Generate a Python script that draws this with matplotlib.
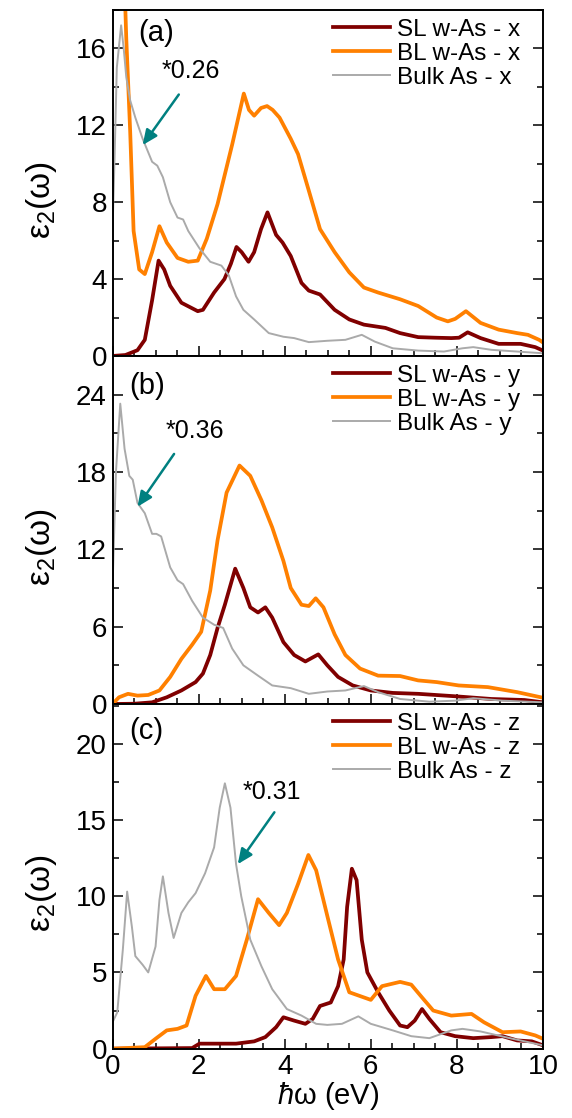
import matplotlib
matplotlib.use('Agg')
import matplotlib.pyplot as plt
from matplotlib.ticker import MultipleLocator

plt.rcParams['font.family'] = ['Liberation Sans', 'DejaVu Sans']
plt.rcParams['mathtext.fontset'] = 'custom'
plt.rcParams['mathtext.rm'] = 'Liberation Sans'
plt.rcParams['mathtext.it'] = 'Liberation Sans:italic'

# ================= data =================
# panel (a): x polarisation
sl_x_e = [0, 0.3, 0.58, 0.75, 0.92, 1.07, 1.2, 1.34, 1.6, 1.98, 2.1, 2.36, 2.6, 2.75, 2.88, 3.0, 3.16, 3.29,
          3.45, 3.6, 3.8, 3.95, 4.14, 4.39, 4.56, 4.82, 5.16, 5.5, 5.84, 6.34, 6.68, 7.1, 7.5, 7.87, 8.05, 8.25,
          8.55, 8.97, 9.48, 9.82, 10]
sl_x = [0, 0.05, 0.3, 0.84, 2.9, 4.96, 4.5, 3.65, 2.77, 2.33, 2.4, 3.3, 4.0, 4.8, 5.67, 5.4, 4.9, 5.4,
        6.6, 7.47, 6.3, 5.9, 5.2, 3.8, 3.4, 3.2, 2.4, 1.9, 1.63, 1.46, 1.19, 0.98, 0.95, 0.93, 0.95, 1.23,
        0.93, 0.63, 0.63, 0.46, 0.28]
bl_x_e = [0.27, 0.32, 0.41, 0.49, 0.62, 0.75, 0.92, 1.09, 1.26, 1.51, 1.76, 1.98, 2.19, 2.44, 2.78, 3.05,
          3.17, 3.29, 3.45, 3.59, 3.72, 3.88, 4.14, 4.31, 4.56, 4.82, 5.16, 5.5, 5.84, 6.17, 6.68, 7.1, 7.53,
          7.79, 7.96, 8.21, 8.55, 8.97, 9.4, 9.65, 9.91, 10]
bl_x = [20, 16.5, 11.7, 6.5, 4.5, 4.26, 5.4, 6.75, 5.9, 5.1, 4.9, 4.96, 6.1, 7.9, 11.0, 13.65,
        12.8, 12.5, 12.9, 13.0, 12.8, 12.4, 11.3, 10.5, 8.6, 6.6, 5.4, 4.35, 3.56, 3.3, 2.95, 2.6, 2.0,
        1.8, 1.93, 2.33, 1.72, 1.37, 1.19, 1.1, 0.84, 0.7]
bulk_x_e = [0, 0.05, 0.1, 0.2, 0.26, 0.32, 0.41, 0.53, 0.7, 0.92, 1.04, 1.17, 1.34, 1.51, 1.64, 1.76, 2.02,
            2.27, 2.53, 2.7, 2.87, 3.04, 3.29, 3.63, 3.97, 4.22, 4.56, 4.99, 5.41, 5.79, 6.09, 6.51, 7.1, 7.7,
            8.13, 8.38, 8.8, 9.4, 10]
bulk_x = [6.5, 10.5, 15.0, 17.2, 16.0, 14.5, 13.3, 12.4, 11.3, 10.1, 9.9, 9.3, 8.0, 7.2, 7.1, 6.5, 5.6,
          4.9, 4.7, 4.2, 3.1, 2.4, 1.9, 1.19, 1.0, 0.93, 0.72, 0.79, 0.84, 1.1, 0.75, 0.4, 0.28, 0.23,
          0.4, 0.46, 0.32, 0.23, 0.14]

# panel (b): y polarisation
sl_y_e = [0, 0.5, 0.92, 1.26, 1.6, 1.93, 2.1, 2.27, 2.44, 2.61, 2.85, 3.04, 3.2, 3.38, 3.55, 3.71, 3.97,
          4.22, 4.48, 4.78, 4.99, 5.24, 5.58, 6.0, 6.51, 7.1, 7.96, 8.8, 9.57, 10]
sl_y = [0, 0.02, 0.13, 0.52, 1.05, 1.7, 2.36, 3.8, 5.9, 7.7, 10.5, 9.0, 7.5, 7.1, 7.5, 6.7, 4.8,
        3.8, 3.3, 3.85, 3.0, 2.1, 1.44, 1.05, 0.86, 0.79, 0.6, 0.39, 0.31, 0.13]
bl_y_e = [0, 0.15, 0.36, 0.58, 0.83, 1.09, 1.34, 1.6, 1.85, 2.06, 2.27, 2.44, 2.65, 2.95, 3.2, 3.46, 3.71,
          3.97, 4.14, 4.39, 4.56, 4.72, 4.9, 5.16, 5.41, 5.75, 6.17, 6.68, 7.1, 7.53, 8.04, 8.72, 9.4, 9.95]
bl_y = [0, 0.52, 0.79, 0.65, 0.7, 1.05, 2.1, 3.5, 4.6, 5.6, 8.8, 12.7, 16.4, 18.5, 17.7, 15.8, 13.7,
        11.1, 9.0, 7.7, 7.6, 8.2, 7.5, 5.4, 3.8, 2.75, 2.2, 2.17, 1.83, 1.7, 1.44, 1.31, 0.92, 0.52]
bulk_y_e = [0, 0.08, 0.18, 0.28, 0.39, 0.47, 0.58, 0.75, 0.92, 1.02, 1.13, 1.34, 1.51, 1.64, 1.85, 2.1,
            2.36, 2.57, 2.78, 3.04, 3.38, 3.71, 4.14, 4.56, 4.99, 5.41, 5.84, 6.17, 6.68, 7.36, 7.96, 8.38,
            9.06, 10]
bulk_y = [9.0, 18.0, 23.3, 19.8, 17.7, 17.4, 15.6, 14.8, 13.2, 13.2, 13.0, 10.6, 9.6, 9.3, 8.0, 6.7,
          6.15, 5.9, 4.3, 3.0, 2.2, 1.44, 1.23, 0.79, 0.97, 1.05, 1.39, 0.92, 0.39, 0.18, 0.26, 0.45,
          0.26, 0.13]

# panel (c): z polarisation
sl_z_e = [0, 1.85, 2.02, 2.44, 2.87, 3.29, 3.55, 3.8, 3.97, 4.22, 4.48, 4.65, 4.82, 5.07, 5.24, 5.37,
          5.45, 5.56, 5.67, 5.79, 5.92, 6.17, 6.43, 6.68, 6.85, 7.02, 7.19, 7.36, 7.62, 7.96, 8.38, 8.8,
          9.06, 9.4, 9.74, 10]
sl_z = [0, 0.04, 0.33, 0.33, 0.33, 0.48, 0.76, 1.41, 2.06, 1.84, 1.63, 1.95, 2.8, 3.03, 4.1, 5.85,
        9.3, 11.8, 11.05, 7.15, 5.0, 3.7, 2.5, 1.52, 1.41, 1.84, 2.6, 1.95, 1.08, 0.82, 0.69, 0.76,
        0.82, 0.54, 0.48, 0.22]
bl_z_e = [0, 0.75, 1.0, 1.26, 1.51, 1.72, 1.93, 2.17, 2.36, 2.61, 2.87, 3.12, 3.38, 3.63, 3.87, 4.05,
          4.31, 4.55, 4.73, 4.99, 5.24, 5.5, 5.84, 6.0, 6.26, 6.68, 6.94, 7.19, 7.45, 7.87, 8.34, 8.63,
          9.06, 9.48, 9.82, 10]
bl_z = [0, 0.1, 0.65, 1.2, 1.3, 1.52, 3.47, 4.77, 3.9, 3.9, 4.77, 7.15, 9.8, 8.9, 8.1, 8.9,
        10.8, 12.7, 11.7, 8.7, 5.85, 3.7, 3.36, 3.2, 4.1, 4.38, 4.2, 3.36, 2.5, 2.17, 2.28, 1.73,
        1.08, 1.13, 0.87, 0.65]
bulk_z_e = [0, 0.11, 0.24, 0.34, 0.45, 0.53, 0.7, 0.83, 1.0, 1.09, 1.17, 1.3, 1.42, 1.6, 1.76, 1.93,
            2.15, 2.36, 2.49, 2.61, 2.74, 2.87, 2.99, 3.2, 3.46, 3.71, 4.05, 4.39, 4.73, 4.99, 5.33,
            5.71, 6.0, 6.51, 6.94, 7.36, 7.87, 8.13, 8.55, 9.23, 10]
bulk_z = [1.73, 2.38, 6.5, 10.3, 8.0, 6.07, 5.5, 5.0, 6.7, 9.75, 11.3, 8.9, 7.26, 8.9, 9.6, 10.2,
          11.5, 13.2, 15.8, 17.4, 15.8, 12.1, 10.0, 7.15, 5.4, 3.9, 2.6, 2.17, 1.63, 1.56, 1.63,
          2.12, 1.63, 1.2, 0.82, 0.69, 1.2, 1.3, 1.13, 0.69, 0.22]

directions = ['x', 'y', 'z']
panel_tags = ['(a)', '(b)', '(c)']
scale_labels = ['*0.26', '*0.36', '*0.31']

# ================= style / layout =================
C_SL = '#800000'
C_BL = '#ff8000'
C_BULK = '#aaaaaa'
C_ARROW = '#008080'

series = [
    [(sl_x_e, sl_x), (bl_x_e, bl_x), (bulk_x_e, bulk_x)],
    [(sl_y_e, sl_y), (bl_y_e, bl_y), (bulk_y_e, bulk_y)],
    [(sl_z_e, sl_z), (bl_z_e, bl_z), (bulk_z_e, bulk_z)],
]
ylims = [18.0, 27.0, 22.6]
ysteps = [4, 6, 5]
# arrow tail, arrow head, text centre (data coords)
arrows = [((1.54, 13.6), (0.70, 10.97), (1.81, 14.8)),
          ((1.43, 19.4), (0.58, 15.3), (1.92, 21.2)),
          ((3.76, 15.5), (2.91, 12.1), (3.70, 16.8))]
tag_pos = [(0.059, 0.975), (0.038, 0.955), (0.038, 0.962)]

fig = plt.figure(figsize=(5.72, 11.18), dpi=100)
left, width = 0.1967, 0.7526
bottoms = [0.6816, 0.3703, 0.0620]
heights = [0.3095, 0.3113, 0.3083]

for i in range(3):
    ax = fig.add_axes([left, bottoms[i], width, heights[i]])
    (sx, sy), (bx, by), (kx, ky) = series[i]
    d = directions[i]
    ax.plot(sx, sy, color=C_SL, lw=2.7, label=f'SL w-As - {d}')
    ax.plot(bx, by, color=C_BL, lw=2.7, label=f'BL w-As - {d}')
    ax.plot(kx, ky, color=C_BULK, lw=1.4, label=f'Bulk As - {d}')

    ax.set_xlim(0, 10)
    ax.set_ylim(0, ylims[i])
    ax.xaxis.set_major_locator(MultipleLocator(2))
    ax.xaxis.set_minor_locator(MultipleLocator(0.5))
    ax.yaxis.set_major_locator(MultipleLocator(ysteps[i]))
    ax.yaxis.set_minor_locator(MultipleLocator(ysteps[i] / 2))
    ax.tick_params(which='both', direction='in', right=True, top=False, labelsize=20, width=1.1)
    ax.tick_params(which='major', length=7, pad=4)
    ax.tick_params(which='minor', length=4)
    for sp in ax.spines.values():
        sp.set_linewidth(1.4)
    if i < 2:
        ax.tick_params(labelbottom=False)
    else:
        ax.set_xlabel(r'$\hbar$ω (eV)', fontsize=21, labelpad=0)

    ax.set_ylabel('ε$_2$(ω)', fontsize=24)
    ax.yaxis.set_label_coords(-0.125, 0.45)
    ax.text(tag_pos[i][0], tag_pos[i][1], panel_tags[i], transform=ax.transAxes,
            fontsize=21, va='top', ha='left')

    tail, head, tpos = arrows[i]
    ax.annotate('', xy=head, xytext=tail,
                arrowprops=dict(arrowstyle='-|>,head_length=0.9,head_width=0.4', color=C_ARROW, lw=1.8,
                                shrinkA=0, shrinkB=0))
    ax.text(tpos[0], tpos[1], scale_labels[i], fontsize=18, ha='center', va='center')

    ax.legend(loc='upper right', frameon=False, fontsize=17.5, handlelength=2.35, handletextpad=0.3,
              labelspacing=0.08, borderaxespad=0, borderpad=0, bbox_to_anchor=(0.947, 0.975))

fig.savefig('out.png', dpi=100)
